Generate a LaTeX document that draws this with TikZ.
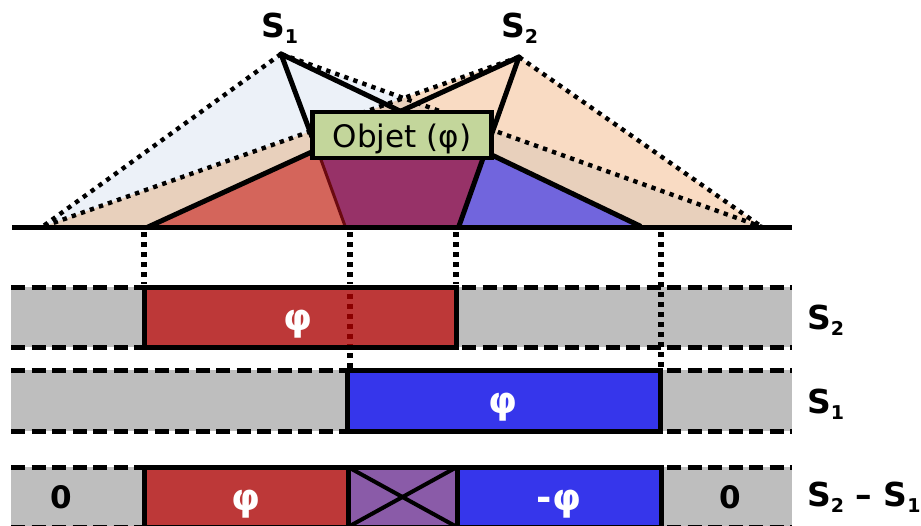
\documentclass[tikz,border=0pt]{standalone}
\usepackage{fontspec}
\setmainfont{DejaVu Sans}
\usetikzlibrary{calc}
\newcommand{\fs}[1]{\fontsize{#1}{#1}\selectfont}
\newcommand{\srcS}[1]{S\raisebox{-6pt}{\fs{19}#1}}
\tikzset{
  x=1pt,y=-1pt,
  solid line/.style={draw=black,line width=5pt,line cap=round,line join=round},
  dot line/.style={draw=black,line width=4.4pt,dash pattern=on 4.4pt off 5.2pt},
  vdot/.style={draw=black,line width=5.4pt,dash pattern=on 5.2pt off 4.8pt},
  grayband/.style={fill=bandgray,draw=none},
  dashrule/.style={draw=black,line width=5pt,dash pattern=on 14pt off 6.5pt},
  signal/.style={draw=black,line width=5pt,miter limit=4},
  phi/.style={text=white,font=\bfseries\fs{37},inner sep=0pt},
  zero/.style={text=black,font=\bfseries\fs{31},inner sep=0pt},
  lab/.style={text=black,font=\bfseries\fs{33},inner sep=0pt},
}
\definecolor{bandgray}{HTML}{BEBEBE}
\definecolor{sigred}{HTML}{BD3838}
\definecolor{sigblue}{HTML}{3636EB}
\definecolor{sigpurple}{HTML}{8A5BA8}
\definecolor{lblue}{HTML}{ECF1F8}
\definecolor{lorange}{HTML}{F9DBC3}
\definecolor{loverlap}{HTML}{E8D0BC}
\definecolor{ured}{HTML}{D4655B}
\definecolor{upurple}{HTML}{973268}
\definecolor{uviolet}{HTML}{7165DD}
\definecolor{objgreen}{HTML}{C3D69B}
\definecolor{darkedge}{HTML}{6B0A10}
\definecolor{dotred}{HTML}{8B0000}
\begin{document}
\begin{tikzpicture}
\useasboundingbox (0,0) rectangle (921,525);
\clip (0,0) rectangle (921,525);
% key points
\coordinate (A) at (281,54);
\coordinate (B) at (519,57);
\coordinate (L) at (42,227);
\coordinate (R) at (762,227);
\coordinate (G0) at (12,227);
\coordinate (G1) at (792,227);
\coordinate (P1) at (148,227);
\coordinate (P2) at (345,226);
\coordinate (P3) at (459,226);
\coordinate (P4) at (640,226);
\coordinate (V) at (intersection of A--R and B--L);
% penumbra
\fill[lblue] (A) -- (L) -- (V) -- cycle;
\fill[lorange] (B) -- (V) -- (R) -- cycle;
\fill[loverlap] (L) -- (V) -- (R) -- cycle;
\draw[dot line] (A) -- (L);
\draw[dot line] (B) -- (L);
\draw[dot line] (A) -- (R);
\draw[dot line] (B) -- (R);
% umbra
\fill[ured] (P1) -- (312,152) -- (322,158) -- (P2) -- cycle;
\fill[upurple] (320,155) -- (P2) -- (P3) -- (487,155) -- cycle;
\fill[uviolet] (487,152) -- (P3) -- (P4) -- (495,155) -- cycle;
% solid rays
\draw[solid line] (A) -- (312,137);
\draw[solid line] (A) -- (P4);
\draw[solid line] (B) -- (P1);
\draw[solid line] (B) -- (P3);
\draw[darkedge,line width=3pt] (320,157) -- (P2);
% ground
\draw[draw=black,line width=5pt] (G0) -- (G1);
% object
\node[draw=black,line width=4.6pt,fill=objgreen,minimum width=179pt,minimum height=46pt,inner sep=0pt] (obj) at (402,135) {\fs{31}\rule{0pt}{32pt}Objet (φ)};
% labels of sources
\node[lab,anchor=west] (s1) at (261,28) {\srcS{1}};
\node[lab,anchor=west] (s2) at (501,28) {\srcS{2}};
% row 1
\fill[grayband] (11,287) rectangle (792,347);
\draw[dashrule] (11,287) -- (792,287);
\draw[dashrule] (11,347) -- (792,347);
% row 2
\fill[grayband] (11,370) rectangle (792,431);
\draw[dashrule] (11,370) -- (792,370);
\draw[dashrule] (11,431) -- (792,431);
% row 3
\fill[grayband] (11,467) rectangle (792,527);
\draw[dashrule] (11,467) -- (792,467);
\draw[dashrule] (11,527) -- (792,527);
% signals
\node[signal,fill=sigred,anchor=north west,minimum width=312pt,minimum height=60pt,inner sep=0pt,outer sep=0pt] (r1) at (144,287) {};
\node[signal,fill=sigblue,anchor=north west,minimum width=313pt,minimum height=61pt,inner sep=0pt,outer sep=0pt] (r2) at (347,370) {};
\node[signal,fill=sigred,anchor=north west,minimum width=204pt,minimum height=60pt,inner sep=0pt,outer sep=0pt] (r3a) at (144,467) {};
\node[signal,fill=sigblue,anchor=north west,minimum width=204pt,minimum height=60pt,inner sep=0pt,outer sep=0pt] (r3c) at (457,467) {};
\node[signal,fill=sigpurple,anchor=north west,minimum width=109pt,minimum height=60pt,inner sep=0pt,outer sep=0pt] (r3b) at (348,467) {};
\draw[draw=black,line width=4pt] (r3b.north west) -- (r3b.south east);
\draw[draw=black,line width=4pt] (r3b.north east) -- (r3b.south west);
% vertical dotted guides
\coordinate (d1a) at (144,232); \coordinate (d1b) at (144,284);
\coordinate (d2a) at (350,232); \coordinate (d2b) at (350,284);
\coordinate (d2c) at (350,294); \coordinate (d2d) at (350,345);
\coordinate (d2e) at (350,353); \coordinate (d2f) at (350,368);
\coordinate (d3a) at (456,232); \coordinate (d3b) at (456,284);
\coordinate (d4a) at (661,232); \coordinate (d4b) at (661,368);
\draw[vdot] (d1a) -- (d1b);
\draw[vdot] (d2a) -- (d2b);
\draw[vdot,draw=dotred] (d2c) -- (d2d);
\draw[vdot] (d2e) -- (d2f);
\draw[vdot] (d3a) -- (d3b);
\draw[vdot] (d4a) -- (d4b);
% values
\node[phi] (v1) at (298,324) {φ};
\node[phi] (v2) at (503,407) {φ};
\node[phi] (v3) at (246,504) {φ};
\node[phi] (v4) at (559,504) {-φ};
\node[zero] (z1) at (61,497) {0};
\node[zero] (z2) at (730,497) {0};
% right labels
\node[lab,anchor=west] (l1) at (807,320) {\srcS{2}};
\node[lab,anchor=west] (l2) at (807,404) {\srcS{1}};
\node[lab,anchor=west] (l3) at (807,497) {\srcS{2} – \srcS{1}};
\end{tikzpicture}
\end{document}
